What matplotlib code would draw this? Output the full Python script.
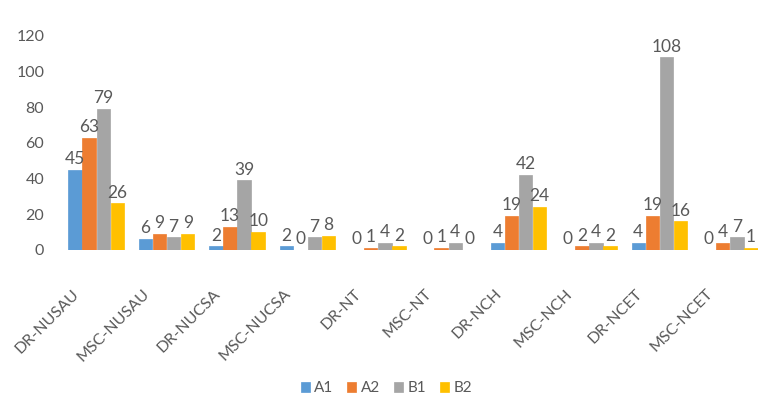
import numpy as np
import matplotlib
matplotlib.use("Agg")
import matplotlib.pyplot as plt
import matplotlib.transforms as mtransforms

plt.rcParams['font.family'] = ['Lato', 'DejaVu Sans']

categories = ['DR-NUSAU', 'MSC-NUSAU', 'DR-NUCSA', 'MSC-NUCSA', 'DR-NT',
              'MSC-NT', 'DR-NCH', 'MSC-NCH', 'DR-NCET', 'MSC-NCET']
a1 = [45, 6, 2, 2, 0, 0, 4, 0, 4, 0]
a2 = [63, 9, 13, 0, 1, 1, 19, 2, 19, 4]
b1 = [79, 7, 39, 7, 4, 4, 42, 4, 108, 7]
b2 = [26, 9, 10, 8, 2, 0, 24, 2, 16, 1]
series = {'A1': a1, 'A2': a2, 'B1': b1, 'B2': b2}
colors = ['#5B9BD5', '#ED7D31', '#A5A5A5', '#FFC000']

fig = plt.figure(figsize=(7.58, 4.03), dpi=100)
ax = fig.add_axes([61 / 758, 0.38, 697 / 758, 0.531])

x = np.arange(len(categories))
w = 0.2
for i, (name, vals) in enumerate(series.items()):
    pos = x + (i - 1.5) * w
    ax.bar(pos, vals, w * 0.95, color=colors[i], label=name,
           edgecolor=colors[i], linewidth=0.5)
    for p, v in zip(pos, vals):
        ax.text(p, v + 1.5, str(v), ha='center', va='bottom', fontsize=12.5,
                color='#595959', clip_on=False)

ax.set_xlim(-0.5, 9.4)
ax.set_ylim(0, 120)
ax.set_yticks(range(0, 121, 20))
for s in ax.spines.values():
    s.set_visible(False)
ax.tick_params(axis='y', length=0, labelsize=11.5, labelcolor='#595959', pad=12)
ax.tick_params(axis='x', length=0, labelsize=11.5, labelcolor='#595959')
ax.set_xticks(x)
ax.set_xticklabels(categories, rotation=45, ha='right', rotation_mode='anchor')
off = mtransforms.ScaledTranslation(-24 / 100, -32 / 100, fig.dpi_scale_trans)
for lab in ax.get_xticklabels():
    lab.set_transform(lab.get_transform() + off)

fig.legend(loc='center', bbox_to_anchor=(0.51, 0.037), ncol=4, frameon=False,
           fontsize=11, handlelength=0.6, handleheight=0.6, handletextpad=0.3,
           columnspacing=0.9, labelcolor='#595959')

fig.savefig('out.png', dpi=100)
